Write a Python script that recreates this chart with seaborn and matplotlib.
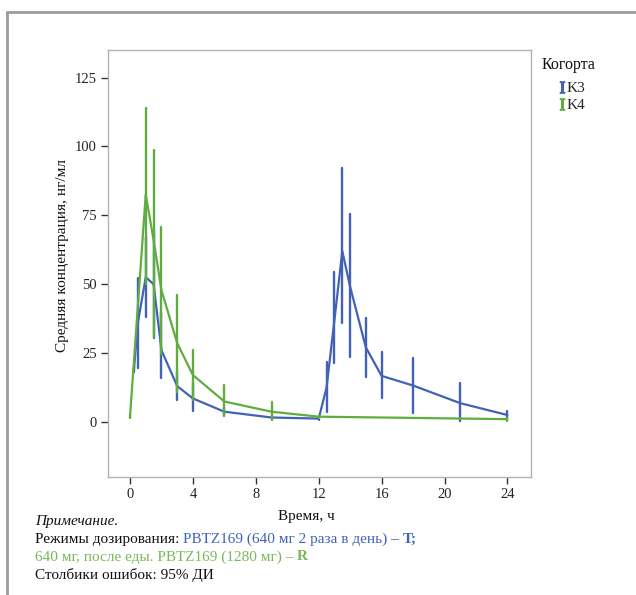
import numpy as np
import pandas as pd
import matplotlib
matplotlib.use("Agg")
import matplotlib.pyplot as plt
from matplotlib.lines import Line2D
import seaborn as sns

# ---- data ----
k3_time = [0.25, 0.5, 1, 1.5, 2, 3, 4, 6, 9, 12, 12.5, 13, 13.5, 14, 15, 16, 18, 21, 24]
k3_mean = [19, 36, 52.5, 50, 26, 13, 8.5, 3.7, 1.6, 1.2, 12.5, 37, 62, 49, 27, 16.7, 13.2, 6.8, 2.5]
k3_low = [18, 19.5, 38, 30.5, 16, 8, 4, 2.5, 1, 0.8, 3.7, 21.3, 35.8, 23.4, 16.4, 8.6, 3.4, 0.5, 1.5]
k3_high = [20, 52.3, 67, 69.5, 40, 18.5, 14, 5, 2.2, 1.6, 21.8, 54.5, 92.3, 75.4, 37.6, 25.5, 23.1, 14.2, 4]

k4_time = [0, 1, 1.5, 2, 3, 4, 6, 9, 12, 24]
k4_mean = [2, 82.5, 66, 47.8, 28.6, 17, 7.4, 3.7, 1.9, 1.0]
k4_low = [1.5, 50, 31, 24.8, 11, 8, 2, 0.6, 1.5, 0.5]
k4_high = [2.5, 114, 98.6, 70.8, 46, 26, 13.4, 7.4, 2.3, 1.5]

cohorts = ["K3", "K4"]
x_ticks = [0, 4, 8, 12, 16, 20, 24]
y_ticks = [0, 25, 50, 75, 100, 125]

BLUE = "#4262b8"
GREEN = "#5fad40"

# long table: three rows per time point (low, mean, high) -> median = mean, pi100 = CI
rows = []
for name, t, m, lo, hi in [(cohorts[0], k3_time, k3_mean, k3_low, k3_high),
                           (cohorts[1], k4_time, k4_mean, k4_low, k4_high)]:
    for ti, mi, li, hi_ in zip(t, m, lo, hi):
        for v in (li, mi, hi_):
            rows.append({"Когорта": name, "Время": ti, "Конц": v})
df = pd.DataFrame(rows)

sns.set_theme(style="white")
plt.rcParams["font.family"] = ["Liberation Serif", "DejaVu Serif"]
plt.rcParams["mathtext.fontset"] = "custom"
plt.rcParams["mathtext.rm"] = "Liberation Serif"

fig = plt.figure(figsize=(6.36, 5.95), dpi=100)
ax = fig.add_axes([108 / 636, 1 - 477 / 595, 423 / 636, 427 / 595])

sns.lineplot(data=df, x="Время", y="Конц", hue="Когорта",
             palette={cohorts[0]: BLUE, cohorts[1]: GREEN},
             estimator="median", errorbar=("pi", 100), err_style="bars",
             err_kws={"linewidth": 1.7}, linewidth=1.6, legend=False, ax=ax)

ax.set_xlim(-1.4, 25.5)
ax.set_ylim(-20, 135)
ax.set_xticks(x_ticks)
ax.set_yticks(y_ticks)
ax.tick_params(axis="both", which="both", direction="out", length=5, width=1,
               color="#333333", labelsize=10.5, labelcolor="#222222", pad=3,
               bottom=True, left=True)
for s in ax.spines.values():
    s.set_color("#b8b0ae")
    s.set_linewidth(1.0)

ax.set_xlabel("Время, ч", fontsize=11, color="#111111")
ax.xaxis.set_label_coords((306 - 108) / 423, (477 - 510) / 427)
ax.set_ylabel("Средняя концентрация, нг/мл", fontsize=11, color="#111111")
ax.yaxis.set_label_coords((69 - 108) / 423, (477 - 256) / 427)

# legend
handles = [Line2D([], [], color=BLUE, marker=r"$\mathrm{I}$", linestyle="none", markersize=8),
           Line2D([], [], color=GREEN, marker=r"$\mathrm{I}$", linestyle="none", markersize=8)]
leg = fig.legend(handles, cohorts, loc="upper left",
                 bbox_to_anchor=(547 / 636, 1 - 71 / 595), frameon=False,
                 fontsize=11, handlelength=0.6, handletextpad=0.0,
                 labelspacing=0.2, borderpad=0.2)
fig.text(542 / 636, 1 - 65 / 595, "Когорта", fontsize=11.5, color="#111111",
         ha="left", va="center")

# outer frame (cropped page border)
fig.add_artist(Line2D([7 / 636, 7 / 636], [0, 1 - 12 / 595], transform=fig.transFigure,
                      color="#9c9c9c", linewidth=2))
fig.add_artist(Line2D([7 / 636, 1], [1 - 12 / 595, 1 - 12 / 595], transform=fig.transFigure,
                      color="#9c9c9c", linewidth=2))

# note text
fig.canvas.draw()
renderer = fig.canvas.get_renderer()


def colored_line(parts, x_px, y_px, size=11):
    x = x_px
    for txt, col, weight, style in parts:
        t = fig.text(x / 636, 1 - y_px / 595, txt, color=col, fontsize=size,
                     fontweight=weight, fontstyle=style, va="center", ha="left")
        bb = t.get_window_extent(renderer)
        x = bb.x1


colored_line([("Примечание.", "#111111", "normal", "italic")], 35, 521)
colored_line([("Режимы дозирования: ", "#111111", "normal", "normal"),
              ("PBTZ169 (640 мг 2 раза в день) – ", BLUE, "normal", "normal"),
              ("T;", BLUE, "bold", "normal")], 35, 539)
colored_line([("640 мг, после еды. PBTZ169 (1280 мг) – ", "#7ab85a", "normal", "normal"),
              ("R", "#7ab85a", "bold", "normal")], 35, 557)
colored_line([("Столбики ошибок: 95% ДИ", "#111111", "normal", "normal")], 35, 575)

fig.savefig("out.png", dpi=100)
